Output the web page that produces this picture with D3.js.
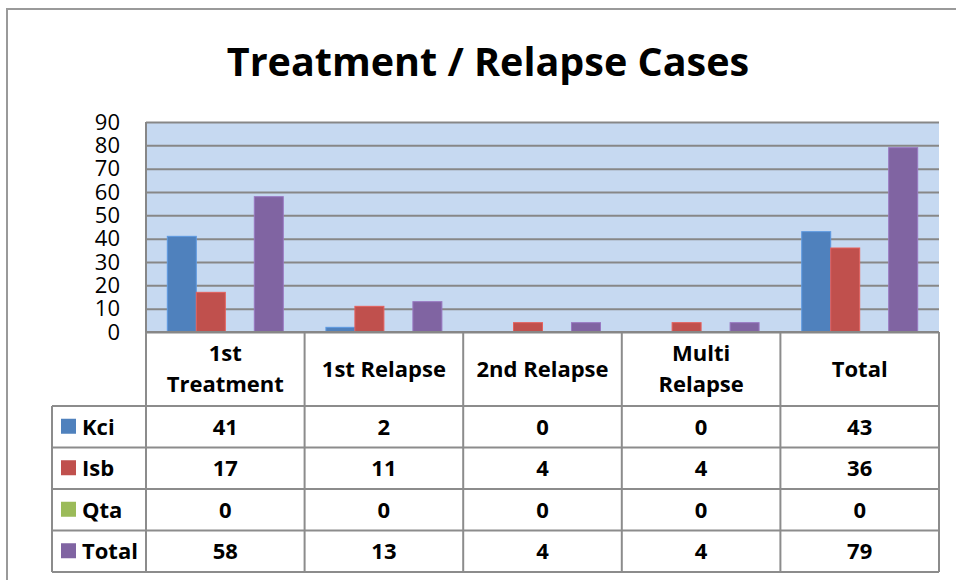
<html lang="en">
<head>
  <meta charset="UTF-8">
  <title>Treatment / Relapse Cases</title>
  <style>
    body { margin: 0; background: #fff; }
    svg text { font-family: "Open Sans", Lato, sans-serif; fill: #000; }
    .tick text { font-size: 22px; }
  </style>
</head>
<body>
  <div id="viz"></div>
  <script src="https://d3js.org/d3.v7.min.js"></script>
  <script>
    const categories = ["1st Treatment", "1st Relapse", "2nd Relapse", "Multi Relapse", "Total"]
    const headerLines = [["1st", "Treatment"], ["1st Relapse"], ["2nd Relapse"], ["Multi", "Relapse"], ["Total"]]
    const seriesNames = ["Kci", "Isb", "Qta", "Total"]
    const kci = [41, 2, 0, 0, 43]
    const isb = [17, 11, 4, 4, 36]
    const qta = [0, 0, 0, 0, 0]
    const total = [58, 13, 4, 4, 79]
    const colors = ["#4F81BD", "#C0504D", "#9BBB59", "#8064A2"]
    const yTicks = [0, 10, 20, 30, 40, 50, 60, 70, 80, 90]

    const seriesValues = [kci, isb, qta, total]
    const W = 956, H = 580
    const plot = {left: 146, right: 939, top: 122, bottom: 332}
    const tableLeft = 52
    const headerBottom = 406
    const rowH = 41.5

    const svg = d3.select("#viz").append("svg")
      .attr("width", W).attr("height", H)

    // outer chart border
    svg.append("rect")
      .attr("x", 7).attr("y", 9)
      .attr("width", W + 10).attr("height", H + 10)
      .attr("fill", "#fff").attr("stroke", "#9a9a9a").attr("stroke-width", 2)

    svg.append("text")
      .attr("x", 488).attr("y", 76)
      .attr("text-anchor", "middle")
      .style("font-size", "39.5px").style("font-weight", "bold")
      .text("Treatment / Relapse Cases")

    const x0 = d3.scaleBand().domain(categories).range([plot.left, plot.right])
    const x1 = d3.scaleBand().domain(seriesNames).range([0, x0.bandwidth()]).paddingOuter(0.735)
    const y = d3.scaleLinear().domain([0, 90]).range([plot.bottom, plot.top])

    svg.append("rect")
      .attr("x", plot.left).attr("y", plot.top)
      .attr("width", plot.right - plot.left).attr("height", plot.bottom - plot.top)
      .attr("fill", "#C6D9F1")

    // gridlines + y labels
    const yAxis = svg.append("g")
      .attr("transform", "translate(" + plot.left + ",0)")
      .call(d3.axisLeft(y).tickValues(yTicks).tickSize(-(plot.right - plot.left)).tickPadding(26))
    yAxis.select(".domain").remove()
    yAxis.selectAll(".tick line").attr("stroke", "#878787").attr("stroke-width", 2)
    yAxis.selectAll(".tick text").attr("font-family", null).attr("font-size", null)

    svg.append("line")
      .attr("x1", plot.left).attr("x2", plot.left)
      .attr("y1", plot.top).attr("y2", plot.bottom)
      .attr("stroke", "#878787").attr("stroke-width", 2)

    // bars
    seriesNames.forEach(function(name, si) {
      svg.append("g").selectAll("rect")
        .data(seriesValues[si])
        .enter().append("rect")
        .attr("x", function(d, i) { return x0(categories[i]) + x1(name) })
        .attr("y", function(d) { return y(d) })
        .attr("width", x1.bandwidth())
        .attr("height", function(d) { return y(0) - y(d) })
        .attr("fill", colors[si])
        .attr("stroke", d3.color(colors[si]).brighter(0.5))
        .attr("stroke-width", function(d) { return d > 0 ? 1 : 0 })
    })

    // data table
    const tbl = svg.append("g")
    const lineColor = "#8c8c8c"
    const tableBottom = headerBottom + rowH * seriesNames.length

    // header text
    categories.forEach(function(c, i) {
      const cx = x0(c) + x0.bandwidth() / 2
      const lines = headerLines[i]
      const cy = (plot.bottom + headerBottom) / 2
      lines.forEach(function(l, j) {
        tbl.append("text")
          .attr("x", cx)
          .attr("y", cy + (j - (lines.length - 1) / 2) * 31 + 7.5)
          .attr("text-anchor", "middle")
          .style("font-size", "22px").style("font-weight", "bold")
          .text(l)
      })
    })

    // rows
    seriesNames.forEach(function(name, si) {
      const top = headerBottom + si * rowH
      const cy = top + rowH / 2 + 8
      tbl.append("rect")
        .attr("x", 61).attr("y", top + rowH / 2 - 8)
        .attr("width", 15).attr("height", 15)
        .attr("fill", colors[si])
      tbl.append("text")
        .attr("x", 82).attr("y", cy)
        .style("font-size", "22px").style("font-weight", "bold")
        .text(name)
      seriesValues[si].forEach(function(v, i) {
        tbl.append("text")
          .attr("x", x0(categories[i]) + x0.bandwidth() / 2)
          .attr("y", cy)
          .attr("text-anchor", "middle")
          .style("font-size", "22px").style("font-weight", "bold")
          .text(v)
      })
    })

    // table grid lines
    d3.range(seriesNames.length + 1).forEach(function(r) {
      const yy = headerBottom + r * rowH
      tbl.append("line")
        .attr("x1", tableLeft).attr("x2", plot.right)
        .attr("y1", yy).attr("y2", yy)
        .attr("stroke", lineColor).attr("stroke-width", 2)
    })
    tbl.append("line")
      .attr("x1", tableLeft).attr("x2", tableLeft)
      .attr("y1", headerBottom).attr("y2", tableBottom)
      .attr("stroke", lineColor).attr("stroke-width", 2)
    categories.concat([null]).forEach(function(c) {
      const xx = c === null ? plot.right : x0(c)
      tbl.append("line")
        .attr("x1", xx).attr("x2", xx)
        .attr("y1", plot.bottom).attr("y2", tableBottom)
        .attr("stroke", lineColor).attr("stroke-width", 2)
    })

    // category axis line
    svg.append("line")
      .attr("x1", plot.left).attr("x2", plot.right)
      .attr("y1", plot.bottom).attr("y2", plot.bottom)
      .attr("stroke", "#878787").attr("stroke-width", 2)
  </script>
</body>
</html>
